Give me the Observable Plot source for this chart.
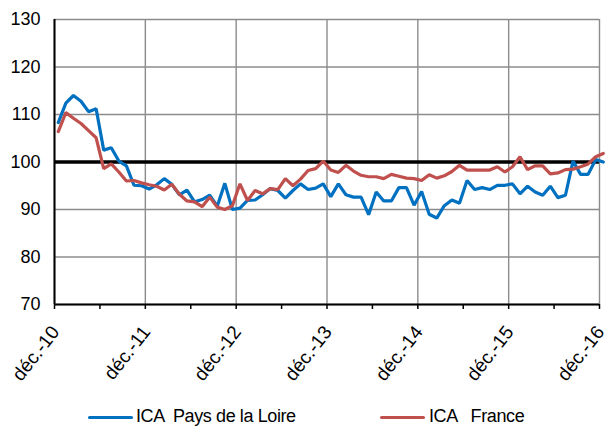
<!DOCTYPE html>
<html><head><meta charset="utf-8">
<script src="https://cdn.jsdelivr.net/npm/d3@7"></script>
<script src="https://cdn.jsdelivr.net/npm/@observablehq/plot@0.6"></script>
<style>
body{margin:0;background:#fff;font-family:"Liberation Sans",Arial,sans-serif;}
#wrap{position:relative;width:606px;height:428px;}
#legend{position:relative;width:606px;height:28px;font-size:18px;color:#000;}
.sw{position:absolute;top:16px;width:45px;height:3px;border-radius:2px;}
.lt{position:absolute;top:6px;white-space:pre;letter-spacing:-0.4px;}
</style></head><body><div id="wrap"><div id="chart"></div>
<div id="legend">
  <span class="sw" style="left:88px;background:#0070C0"></span><span class="lt" style="left:136px">ICA  Pays de la Loire</span>
  <span class="sw" style="left:380px;background:#C0504D"></span><span class="lt" style="left:429px">ICA   France</span>
</div></div>
<script>
// Monthly values, déc. 2010 → déc. 2016
const paysDeLaLoire = [108.3,112.4,114.0,112.8,110.6,111.2,102.5,103.0,100.2,99.2,95.1,95.0,
  94.3,95.2,96.5,95.3,93.1,94.1,91.6,92.1,93.0,90.7,95.5,90.0,
  90.3,91.9,92.0,93.1,94.4,94.0,92.4,94.0,95.4,94.2,94.5,95.4,
  92.7,95.4,93.1,92.6,92.6,88.9,93.7,91.8,91.8,94.6,94.6,90.9,
  93.8,89.0,88.2,90.8,92.0,91.3,96.1,94.2,94.6,94.2,95.1,95.1,
  95.4,93.3,94.9,93.7,93.0,94.9,92.5,93.0,100.2,97.4,97.4,100.5,
  100.0];
const france = [106.4,110.4,109.2,108.1,106.6,105.1,98.6,99.6,97.9,96.0,96.1,95.6,
  95.2,94.9,94.1,95.3,93.2,91.8,91.6,90.6,92.6,90.5,90.0,90.8,
  95.4,91.9,94.0,93.3,94.4,94.2,96.5,95.0,96.4,98.2,98.6,100.2,
  98.3,97.8,99.3,98.1,97.2,96.9,96.9,96.5,97.4,97.0,96.6,96.5,
  96.1,97.3,96.6,97.1,98.0,99.3,98.3,98.3,98.3,98.3,99.0,97.9,
  99.0,101.1,98.4,99.2,99.2,97.5,97.7,98.4,98.5,99.0,99.6,101.1,
  101.8];
const seriesNames = ["ICA  Pays de la Loire", "ICA   France"];
const seriesColors = ["#0070C0", "#C0504D"];
const yTicks = [70, 80, 90, 100, 110, 120, 130];
const xLabels = ["déc.-10","déc.-11","déc.-12","déc.-13","déc.-14","déc.-15","déc.-16"];
const reference = [100];

const data = [
  ...paysDeLaLoire.map((v, i) => ({i, v, s: seriesNames[0]})),
  ...france.map((v, i) => ({i, v, s: seriesNames[1]}))
];
const yearTicks = xLabels.map((_, k) => k * 12 - 0.5);
const halfTicks = d3.range(xLabels.length * 2 - 1).map(k => k * 6 - 0.5);
const labelRows = xLabels.map((label, k) => ({x: yearTicks[k], label}));

const chart = Plot.plot({
  width: 606, height: 400,
  marginLeft: 54, marginRight: 7, marginTop: 19, marginBottom: 96,
  style: {fontFamily: "Liberation Sans, Arial, sans-serif", fontSize: "18px", color: "#000", background: "#fff", overflow: "visible"},
  x: {domain: [-0.5, 71.5], axis: null},
  y: {domain: [70, 130], axis: null},
  color: {domain: seriesNames, range: seriesColors},
  marks: [
    Plot.gridY(yTicks, {stroke: "#8c8c8c", strokeOpacity: 1, strokeWidth: 1.4}),
    Plot.gridX(yearTicks, {stroke: "#8c8c8c", strokeOpacity: 1, strokeWidth: 1.4}),
    Plot.axisY(yTicks, {tickSize: 0, tickPadding: 14, fontSize: 18, label: null}),
    Plot.axisX(halfTicks, {tickSize: 5, tickFormat: () => "", label: null, strokeWidth: 1.5}),
    Plot.text(labelRows, {x: "x", y: () => 70, text: "label", rotate: -52, textAnchor: "end",
      dx: 1, dy: 24, fontSize: 19, fill: "#000"}),
    Plot.ruleX([-0.5], {stroke: "#000", strokeWidth: 2}),
    Plot.ruleY([70], {stroke: "#000", strokeWidth: 2}),
    Plot.ruleY(reference, {stroke: "#000", strokeWidth: 3.5}),
    Plot.line(data, {x: "i", y: "v", z: "s", stroke: "s", strokeWidth: 3.2, strokeLinejoin: "miter"})
  ]
});
document.getElementById("chart").append(chart);
</script></body></html>
